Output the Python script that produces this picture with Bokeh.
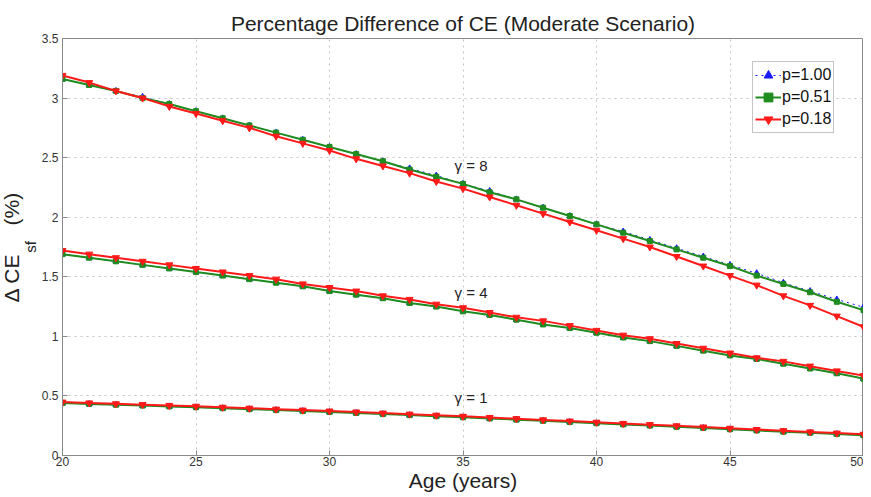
from bokeh.plotting import figure
from bokeh.models import Label, FixedTicker, Legend, LegendItem, Title
from bokeh.embed import file_html
from bokeh.resources import INLINE

ages = list(range(20, 51))

g8_p100 = [3.16, 3.11, 3.06, 3.01, 2.95, 2.89, 2.83, 2.77, 2.71, 2.65, 2.59, 2.53, 2.47, 2.41, 2.35, 2.28,
           2.22, 2.15, 2.08, 2.01, 1.94, 1.88, 1.81, 1.74, 1.67, 1.60, 1.53, 1.45, 1.38, 1.31, 1.245]
g8_p051 = [3.16, 3.11, 3.06, 3.00, 2.95, 2.89, 2.83, 2.77, 2.71, 2.65, 2.59, 2.53, 2.47, 2.40, 2.34, 2.28,
           2.21, 2.15, 2.08, 2.01, 1.94, 1.87, 1.80, 1.73, 1.66, 1.59, 1.51, 1.44, 1.37, 1.29, 1.22]
g8_p018 = [3.19, 3.13, 3.06, 3.00, 2.93, 2.87, 2.81, 2.75, 2.68, 2.62, 2.56, 2.49, 2.43, 2.37, 2.30, 2.24,
           2.17, 2.10, 2.03, 1.96, 1.89, 1.82, 1.75, 1.67, 1.59, 1.51, 1.43, 1.34, 1.26, 1.17, 1.08]

g4_p100 = [1.69, 1.66, 1.63, 1.60, 1.57, 1.54, 1.51, 1.48, 1.45, 1.42, 1.38, 1.35, 1.32, 1.28, 1.25, 1.21,
           1.18, 1.14, 1.10, 1.07, 1.03, 0.99, 0.96, 0.92, 0.88, 0.84, 0.81, 0.77, 0.73, 0.69, 0.645]
g4_p051 = [1.69, 1.66, 1.63, 1.60, 1.57, 1.54, 1.51, 1.48, 1.45, 1.42, 1.38, 1.35, 1.32, 1.28, 1.25, 1.21,
           1.18, 1.14, 1.10, 1.07, 1.03, 0.99, 0.96, 0.92, 0.88, 0.84, 0.81, 0.77, 0.73, 0.69, 0.645]
g4_p018 = [1.72, 1.69, 1.66, 1.63, 1.60, 1.57, 1.54, 1.51, 1.48, 1.44, 1.41, 1.38, 1.34, 1.31, 1.27, 1.24,
           1.20, 1.16, 1.13, 1.09, 1.05, 1.01, 0.98, 0.94, 0.90, 0.86, 0.82, 0.79, 0.75, 0.71, 0.67]

g1_p100 = [0.440, 0.433, 0.426, 0.419, 0.412, 0.405, 0.397, 0.389, 0.381, 0.373, 0.365, 0.357, 0.348, 0.339,
           0.330, 0.321, 0.311, 0.301, 0.291, 0.281, 0.271, 0.261, 0.251, 0.241, 0.231, 0.220, 0.210, 0.200,
           0.190, 0.180, 0.170]
g1_p051 = [0.440, 0.433, 0.426, 0.419, 0.412, 0.405, 0.397, 0.389, 0.381, 0.373, 0.365, 0.357, 0.348, 0.339,
           0.330, 0.321, 0.311, 0.301, 0.291, 0.281, 0.271, 0.261, 0.251, 0.241, 0.231, 0.220, 0.210, 0.200,
           0.190, 0.180, 0.170]
g1_p018 = [0.448, 0.441, 0.434, 0.427, 0.420, 0.413, 0.405, 0.397, 0.389, 0.381, 0.373, 0.365, 0.356, 0.347,
           0.338, 0.329, 0.319, 0.309, 0.299, 0.289, 0.279, 0.269, 0.259, 0.249, 0.239, 0.228, 0.218, 0.208,
           0.198, 0.188, 0.178]

gamma_labels = ["\u03b3 = 8", "\u03b3 = 4", "\u03b3 = 1"]
gamma_label_x = [35.3, 35.3, 35.3]
gamma_label_y = [2.43, 1.37, 0.49]

x_ticks = [20, 25, 30, 35, 40, 45, 50]
y_ticks = [0, 0.5, 1, 1.5, 2, 2.5, 3, 3.5]
y_tick_labels = ["0", "0.5", "1", "1.5", "2", "2.5", "3", "3.5"]

FONT = "Liberation Sans"
BLUE = "#1a1aff"
GREEN = "#1e8c1e"
RED = "#ff1a1a"
TXT = "#222222"
NB = "\u00a0"

p = figure(width=863, height=494, output_backend="svg", toolbar_location=None,
           x_range=(20, 50), y_range=(0, 3.5),
           min_border_left=62, min_border_right=0, min_border_top=38, min_border_bottom=39)

p.background_fill_color = "white"
p.border_fill_color = "white"
p.outline_line_color = "#8a8a8a"
p.outline_line_width = 1

p.title.text = "Percentage Difference of CE (Moderate Scenario)"
p.title.align = "center"
p.title.text_font = FONT
p.title.text_font_size = "21px"
p.title.text_font_style = "normal"
p.title.text_color = TXT
p.title.standoff = 8

for ax in (p.xaxis[0], p.yaxis[0]):
    ax.axis_line_color = "#8a8a8a"
    ax.major_tick_line_color = "#8a8a8a"
    ax.major_tick_in = 5
    ax.major_tick_out = 0
    ax.minor_tick_line_color = None
    ax.major_label_text_font = FONT
    ax.major_label_text_font_size = "12px"
    ax.major_label_text_color = "#333333"

p.xaxis.ticker = FixedTicker(ticks=x_ticks)
p.yaxis.ticker = FixedTicker(ticks=y_ticks)
p.yaxis.major_label_overrides = {t: s for t, s in zip(y_ticks, y_tick_labels)}
p.xaxis.major_label_standoff = 1
p.yaxis.major_label_standoff = 4

p.xaxis.axis_label = "Age (years)"
p.xaxis.axis_label_text_font = FONT
p.xaxis.axis_label_text_font_size = "21px"
p.xaxis.axis_label_text_font_style = "normal"
p.xaxis.axis_label_text_color = TXT
p.xaxis.axis_label_standoff = 0

# y axis label built from two titles in the left panel (main text + subscript)
p.add_layout(Title(text="sf", align="center", offset=5, standoff=0, text_font=FONT,
                   text_font_size="15px", text_font_style="normal", text_color=TXT), "left")
p.add_layout(Title(text="\u0394 CE" + NB * 5 + "(%)", align="center", offset=-11, standoff=-6, text_font=FONT,
                   text_font_size="21px", text_font_style="normal", text_color=TXT), "left")

p.xgrid.ticker = FixedTicker(ticks=x_ticks)
p.ygrid.ticker = FixedTicker(ticks=y_ticks)
for g in (p.xgrid[0], p.ygrid[0]):
    g.grid_line_color = "#c4c4c4"
    g.grid_line_dash = "dotted"
    g.grid_line_width = 1

series = ((g8_p100, g8_p051, g8_p018), (g4_p100, g4_p051, g4_p018), (g1_p100, g1_p051, g1_p018))
items = {"p=1.00": [], "p=0.51": [], "p=0.18": []}
for s100, s051, s018 in series:
    r1 = p.line(ages, s100, line_color=BLUE, line_width=1, line_dash="dotted")
    r2 = p.scatter(ages, s100, marker="triangle", size=6, fill_color=BLUE, line_color=BLUE)
    items["p=1.00"] += [r1, r2]
for s100, s051, s018 in series:
    r1 = p.line(ages, s051, line_color=GREEN, line_width=2)
    r2 = p.scatter(ages, s051, marker="square", size=5, fill_color=GREEN, line_color=GREEN)
    items["p=0.51"] += [r1, r2]
for s100, s051, s018 in series:
    r1 = p.line(ages, s018, line_color=RED, line_width=2)
    r2 = p.scatter(ages, s018, marker="inverted_triangle", size=7, fill_color=RED, line_color=RED)
    items["p=0.18"] += [r1, r2]

legend = Legend(items=[LegendItem(label=k, renderers=v[:2]) for k, v in items.items()],
                location=(690, 322))
legend.label_text_font = FONT
legend.label_text_font_size = "16px"
legend.label_text_color = "#111111"
legend.border_line_color = "#8a8a8a"
legend.border_line_width = 1
legend.background_fill_color = "white"
legend.background_fill_alpha = 1
legend.padding = 2
legend.margin = 0
legend.spacing = 0
legend.glyph_width = 26
legend.glyph_height = 22
legend.label_standoff = 1
legend.label_height = 22
p.add_layout(legend, "center")

for txt, gx, gy in zip(gamma_labels, gamma_label_x, gamma_label_y):
    p.add_layout(Label(x=gx, y=gy, text=txt, text_font=FONT, text_font_size="15px",
                       text_color=TXT, text_align="center", text_baseline="middle"))

open("out.html", "w").write(file_html(p, INLINE))
